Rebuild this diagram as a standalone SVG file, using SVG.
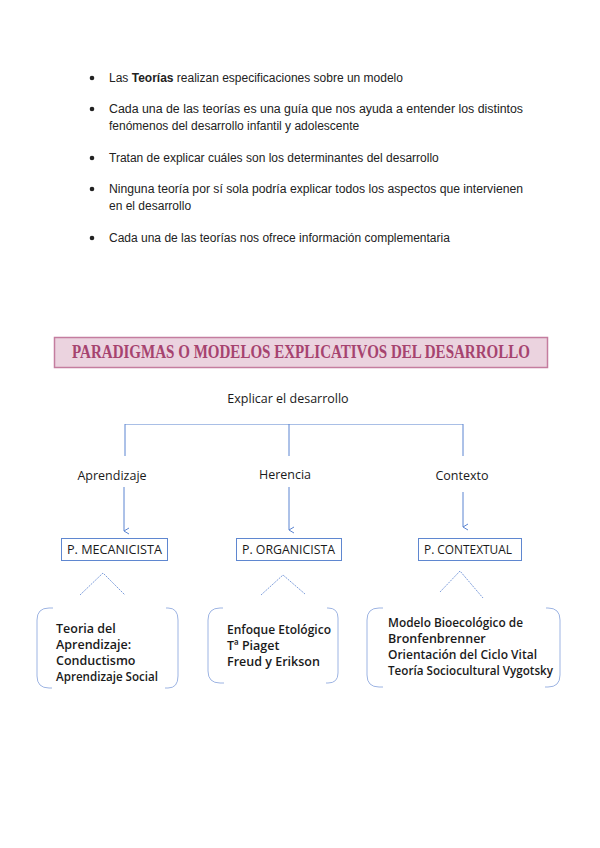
<svg xmlns="http://www.w3.org/2000/svg" width="600" height="848" viewBox="0 0 600 848">
<style>
.b{font-family:"Liberation Sans",Arial,sans-serif;font-size:12px;fill:#222}
.c{font-family:"Open Sans","Noto Sans",sans-serif;font-size:12.5px;fill:#1a1a1a}
.t{font-family:"Open Sans","Noto Sans",sans-serif;font-size:12.5px;fill:#1a1a1a;font-weight:600}
.ln{stroke:#5b84d1;stroke-width:1;fill:none}
.hl{stroke:#a9bfe6;stroke-width:1;fill:none}
.box{fill:#fff;stroke:#5f87d0;stroke-width:1}
.car{stroke:#7f9fdc;stroke-width:1;fill:none;stroke-dasharray:2 1}
.rb{stroke:#9db4e3;stroke-width:1;fill:none}
</style>
<defs>
<marker id="ah" markerWidth="8" markerHeight="8" refX="4" refY="7" orient="auto-start-reverse" markerUnits="userSpaceOnUse" viewBox="0 0 8 8">
<path d="M1,2 L4,7 L7,2" fill="none" stroke="#5b84d1" stroke-width="1"/>
</marker>
</defs>
<rect width="600" height="848" fill="#fff"/>
<g id="bullets">
<circle cx="92" cy="78" r="2.3" fill="#222"/>
<text class="b" x="109" y="82">Las <tspan font-weight="bold">Teorías</tspan> realizan especificaciones sobre un modelo</text>
<circle cx="92" cy="109" r="2.3" fill="#222"/>
<text class="b" x="109" y="113" textLength="414" lengthAdjust="spacingAndGlyphs">Cada una de las teorías es una guía que nos ayuda a entender los distintos</text>
<text class="b" x="109" y="130">fenómenos del desarrollo infantil y adolescente</text>
<circle cx="92" cy="158" r="2.3" fill="#222"/>
<text class="b" x="109" y="162">Tratan de explicar cuáles son los determinantes del desarrollo</text>
<circle cx="92" cy="189" r="2.3" fill="#222"/>
<text class="b" x="109" y="193" textLength="414" lengthAdjust="spacingAndGlyphs">Ninguna teoría por sí sola podría explicar todos los aspectos que intervienen</text>
<text class="b" x="109" y="210">en el desarrollo</text>
<circle cx="92" cy="238" r="2.3" fill="#222"/>
<text class="b" x="109" y="242">Cada una de las teorías nos ofrece información complementaria</text>
</g>
<g id="title">
<rect x="54.5" y="337.5" width="493" height="30" fill="#ebd3df" stroke="#c47d9f" stroke-width="1.5"/>
<text transform="translate(301,358) scale(0.835,1)" x="0" y="0" text-anchor="middle" font-family="'Liberation Serif',serif" font-weight="bold" font-size="18" fill="#a6436f">PARADIGMAS O MODELOS EXPLICATIVOS DEL DESARROLLO</text>
</g>
<g id="connectors">
<path class="hl" d="M125,424.5 H463"/>
<path class="ln" d="M125,424 V456 M289,424 V456 M463,424 V456"/>
<path class="ln" d="M124,487 V531" marker-end="url(#ah)"/>
<path class="ln" d="M289,487 V530" marker-end="url(#ah)"/>
<path class="ln" d="M463,492 V527" marker-end="url(#ah)"/>
<path class="car" d="M80,595 L103,573 L125,595"/>
<path class="car" d="M261,595 L283,575 L305,594"/>
<path class="car" d="M440,592 L460,571 L483,598"/>
</g>
<g id="root"><text class="c" x="288" y="403" text-anchor="middle">Explicar el desarrollo</text></g>
<g id="aprendizaje"><text class="c" x="112" y="480" text-anchor="middle">Aprendizaje</text></g>
<g id="herencia"><text class="c" x="285" y="479" text-anchor="middle">Herencia</text></g>
<g id="contexto"><text class="c" x="462" y="480" text-anchor="middle">Contexto</text></g>
<g id="mecanicista">
<rect class="box" x="61.5" y="538.5" width="106" height="22"/>
<text class="c" x="67" y="554" textLength="95" lengthAdjust="spacingAndGlyphs">P. MECANICISTA</text>
</g>
<g id="organicista">
<rect class="box" x="236.5" y="538.5" width="105" height="22"/>
<text class="c" x="242" y="554" textLength="93" lengthAdjust="spacingAndGlyphs">P. ORGANICISTA</text>
</g>
<g id="contextual">
<rect class="box" x="418.5" y="538.5" width="103" height="22"/>
<text class="c" x="424" y="554" textLength="88" lengthAdjust="spacingAndGlyphs">P. CONTEXTUAL</text>
</g>
<g id="teorias-mecanicista">
<path class="rb" d="M53,608 H49 Q37,608 37,620 V676 Q37,688 49,688 H52 M166,608 H168 Q178,608 178,620 V676 Q178,688 168,688 H165"/>
<text class="t" x="56" y="633">Teoria del</text>
<text class="t" x="56" y="649">Aprendizaje:</text>
<text class="t" x="56" y="665">Conductismo</text>
<text class="t" x="56" y="681" textLength="102" lengthAdjust="spacingAndGlyphs">Aprendizaje Social</text>
</g>
<g id="teorias-organicista">
<path class="rb" d="M223,608 H220 Q208,608 208,620 V671 Q208,683 220,683 H224 M327,608 H328 Q338,608 338,618 V673 Q338,683 328,683 H326"/>
<text class="t" x="227" y="634" textLength="104" lengthAdjust="spacingAndGlyphs">Enfoque Etológico</text>
<text class="t" x="227" y="650">Tª Piaget</text>
<text class="t" x="227" y="666">Freud y Erikson</text>
</g>
<g id="teorias-contextual">
<path class="rb" d="M383,608 H379 Q367,608 367,620 V675 Q367,687 379,687 H383 M546,608 H548 Q560,608 560,620 V675 Q560,687 548,687 H545"/>
<text class="t" x="388" y="627" textLength="135" lengthAdjust="spacingAndGlyphs">Modelo Bioecológico de</text>
<text class="t" x="388" y="643">Bronfenbrenner</text>
<text class="t" x="388" y="659" textLength="149" lengthAdjust="spacingAndGlyphs">Orientación del Ciclo Vital</text>
<text class="t" x="388" y="675" textLength="165" lengthAdjust="spacingAndGlyphs">Teoría Sociocultural Vygotsky</text>
</g>
</svg>
